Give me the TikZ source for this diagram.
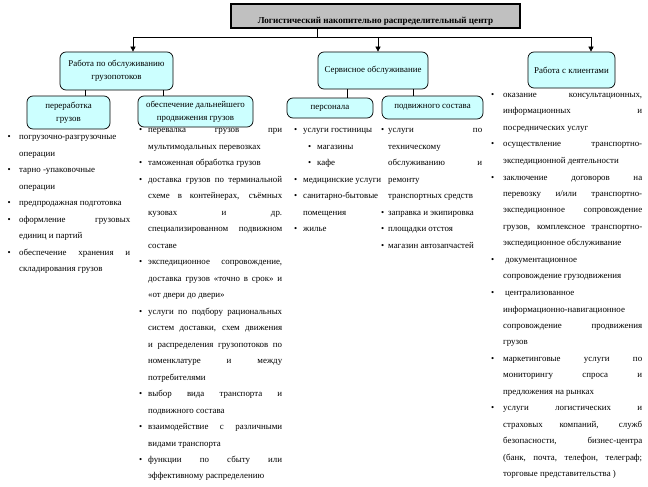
\documentclass[tikz,border=0pt]{standalone}
\usepackage{fontspec}
\setmainfont{Liberation Serif}
\usetikzlibrary{arrows.meta}
\definecolor{boxcyan}{HTML}{CCFFFF}
\definecolor{titlegray}{HTML}{C0C0C0}
\newcommand\Bul[1]{\leavevmode\llap{\textbullet\hspace{#1}}}
\newcommand\JL[1]{\makebox[\linewidth][s]{#1}}
\newcommand\colfont{\fontsize{8.9pt}{16.5pt}\selectfont}
\begin{document}
\begin{tikzpicture}[x=1pt,y=-1pt,
  box/.style={draw=black, line width=0.7pt, fill=boxcyan, rounded corners=6pt, inner sep=0pt, align=center, font=\fontsize{8.9pt}{13pt}\selectfont},
  conn/.style={draw=black, line width=0.7pt},
  arr/.style={conn, -{Triangle[length=5pt,width=5pt]}},
  col/.style={anchor=base west, inner sep=0pt}]
\useasboundingbox (0,0) rectangle (648,487);

% title
\node[draw=black, line width=1.5pt, fill=titlegray, minimum width=289pt, inner sep=0pt,
      text height=20pt, text depth=4pt, font=\bfseries\fontsize{9.1pt}{10pt}\selectfont]
      (title) at (375.5,16) {Логистический накопительно распределительный центр};

% main boxes
\node[box, minimum width=113pt, minimum height=38pt] (b1) at (116.5,71) {Работа по обслуживанию\\грузопотоков};
\node[box, minimum width=110pt, minimum height=37pt] (b2) at (373,70.5) {Сервисное обслуживание};
\node[box, minimum width=87pt, minimum height=36pt] (b3) at (571.5,70) {Работа с клиентами};

% sub boxes
\node[box, minimum width=83pt, minimum height=33pt] (s1) at (68.5,112.5) {переработка\\грузов};
\node[box, minimum width=115pt, minimum height=31pt] (s2) at (195.5,111.5) {обеспечение дальнейшего\\продвижения грузов};
\node[box, minimum width=86pt, minimum height=20pt] (s3) at (330,108) {персонала};
\node[box, minimum width=101pt, minimum height=23pt] (s4) at (432.5,107.5) {подвижного состава};

% connectors
\coordinate (j) at (317,37);
\coordinate (hl) at (133,37);
\coordinate (hm) at (378,37);
\coordinate (hr) at (591,37);
\draw[conn] (title.south -| j) -- (j);
\draw[conn] (hl) -- (hr);
\draw[arr] (hl) -- (hl |- b1.north);
\draw[arr] (hm) -- (hm |- b2.north);
\draw[arr] (hr) -- (hr |- b3.north);

\coordinate (x1) at (85,0);
\coordinate (x2) at (163,0);
\coordinate (x3) at (347,0);
\coordinate (x4) at (413,0);
\draw[conn] (b1.south -| x1) -- (s1.north -| x1);
\draw[conn] (b1.south -| x2) -- (s2.north -| x2);
\draw[conn] (b2.south -| x3) -- (s3.north -| x3);
\draw[conn] (b2.south -| x4) -- (s4.north -| x4);

% column 1
\node[col] (c1) at (19,139.5) {\parbox[t]{111pt}{\colfont
\Bul{8.5pt}погрузочно-разгрузочные\\
операции\\
\Bul{8.5pt}тарно -упаковочные\\
операции\\
\Bul{8.5pt}предпродажная подготовка\\
\Bul{8.5pt}\JL{оформление грузовых}\\
единиц и партий\\
\Bul{8.5pt}\JL{обеспечение хранения и}\\
складирования грузов}};

% column 2
\node[col] (c2) at (148,132.5) {\parbox[t]{134pt}{\colfont
\Bul{6pt}\JL{перевалка грузов при}\\
мультимодальных перевозках\\
\Bul{6pt}таможенная обработка грузов\\
\Bul{6pt}\JL{доставка грузов по терминальной}\\
\JL{схеме в контейнерах, съёмных}\\
\JL{кузовах и др.}\\
\JL{специализированном подвижном}\\
составе\\
\Bul{6pt}\JL{экспедиционное сопровождение,}\\
\JL{доставка грузов «точно в срок» и}\\
«от двери до двери»\\
\Bul{6pt}\JL{услуги по подбору рациональных}\\
\JL{систем доставки, схем движения}\\
\JL{и распределения грузопотоков по}\\
\JL{номенклатуре и между}\\
потребителями\\
\Bul{6pt}\JL{выбор вида транспорта и}\\
подвижного состава\\
\Bul{6pt}\JL{взаимодействие с различными}\\
видами транспорта\\
\Bul{6pt}\JL{функции по сбыту или}\\
эффективному распределению}};

% column 3
\node[col] (c3) at (303,132.5) {\parbox[t]{84pt}{\colfont
\Bul{6pt}\mbox{услуги гостиницы}\\
\hspace*{14pt}\Bul{6pt}магазины\\
\hspace*{14pt}\Bul{6pt}кафе\\
\Bul{6pt}\mbox{медицинские услуги}\\
\Bul{6pt}\mbox{санитарно-бытовые}\\
помещения\\
\Bul{6pt}жилье}};

% column 4
\node[col] (c4) at (388,132.5) {\parbox[t]{94pt}{\colfont
\Bul{4pt}\JL{услуги по}\\
техническому\\
\JL{обслуживанию и}\\
ремонту\\
транспортных средств\\
\Bul{4pt}заправка и экипировка\\
\Bul{4pt}площадки отстоя\\
\Bul{4pt}магазин автозапчастей}};

% column 5
\node[col] (c5) at (503,97.5) {\parbox[t]{139pt}{\colfont
\Bul{9pt}\JL{оказание консультационных,}\\
\JL{информационных и}\\
посреднических услуг\\
\Bul{9pt}\JL{осуществление транспортно-}\\
экспедиционной деятельности\\
\Bul{9pt}\JL{заключение договоров на}\\
\JL{перевозку и/или транспортно-}\\
\JL{экспедиционное сопровождение}\\
\JL{грузов, комплексное транспортно-}\\
экспедиционное обслуживание\\
\Bul{9pt}\hspace*{2pt}документационное\\
сопровождение грузодвижения\\
\Bul{9pt}\hspace*{2pt}централизованное\\
информационно-навигационное\\
\JL{сопровождение продвижения}\\
грузов\\
\Bul{9pt}\JL{маркетинговые услуги по}\\
\JL{мониторингу спроса и}\\
предложения на рынках\\
\Bul{9pt}\JL{услуги логистических и}\\
\JL{страховых компаний, служб}\\
\JL{безопасности, бизнес-центра}\\
\JL{(банк, почта, телефон, телеграф;}\\
торговые представительства )}};
\end{tikzpicture}
\end{document}
